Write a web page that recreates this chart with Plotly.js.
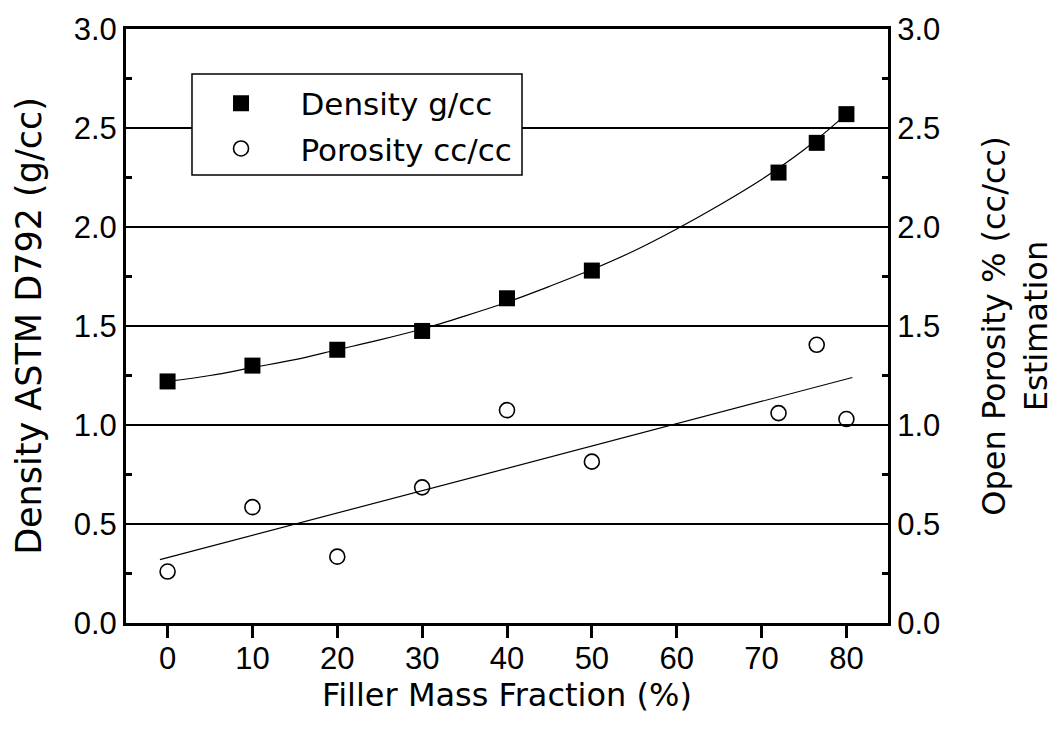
<!DOCTYPE html>
<html>
<head>
<meta charset="utf-8">
<script src="https://cdn.plot.ly/plotly-3.0.1.min.js"></script>
<style>html,body{margin:0;padding:0;background:#fff;}#chart{width:1058px;height:734px;}</style>
</head>
<body>
<div id="chart"></div>
<script>
// Measured points
const fillerX = [0, 10, 20, 30, 40, 50, 72, 76.5, 80];
const density = [1.22, 1.30, 1.38, 1.475, 1.64, 1.78, 2.275, 2.425, 2.57];
const porosity = [0.26, 0.585, 0.335, 0.685, 1.075, 0.815, 1.06, 1.405, 1.03];
// Fitted curves
const densityFitX = [0, 5, 10, 15, 20, 25, 30, 35, 40, 45, 50, 55, 60, 65, 70, 75, 80];
const densityFitY = [1.22, 1.25, 1.29, 1.33, 1.38, 1.43, 1.485, 1.55, 1.62, 1.70, 1.785, 1.88, 1.99, 2.11, 2.24, 2.39, 2.57];
const porosityFitX = [-0.9, 80.7];
const porosityFitY = [0.32, 1.24];
const xTicks = [0, 10, 20, 30, 40, 50, 60, 70, 80];
const yTicks = [0, 0.5, 1.0, 1.5, 2.0, 2.5, 3.0];

const textFont = {family: 'DejaVu Sans', size: 31, color: '#000'};
const tickFont = {family: 'Liberation Sans, Arial, sans-serif', size: 31, color: '#000'};

const traces = [
  {x: densityFitX, y: densityFitY, mode: 'lines', line: {color: '#000', width: 1.2, shape: 'spline'}, showlegend: false, hoverinfo: 'skip'},
  {x: porosityFitX, y: porosityFitY, yaxis: 'y2', mode: 'lines', line: {color: '#000', width: 1.2}, showlegend: false, hoverinfo: 'skip'},
  {x: fillerX, y: density, mode: 'markers', name: '    Density g/cc', legendgroup: 'a',
   marker: {symbol: 'square', size: 16, color: '#000'}},
  {x: fillerX, y: porosity, yaxis: 'y2', mode: 'markers', name: '    Porosity cc/cc', legendgroup: 'b',
   marker: {symbol: 'circle-open', size: 15, color: '#000', line: {width: 1.6, color: '#000'}}}
];

const yCommon = {
  range: [0, 3], tickvals: yTicks, ticktext: yTicks.map(v => v.toFixed(1)),
  ticks: 'inside', ticklen: 11, tickwidth: 2.5, tickcolor: '#000',
  showline: true, linewidth: 3, linecolor: '#000', zeroline: false,
  tickfont: tickFont,
  minor: {dtick: 0.25, tick0: 0, ticks: 'inside', ticklen: 6, tickwidth: 2.5, tickcolor: '#000', showgrid: false}
};

const layout = {
  width: 1058, height: 734,
  margin: {l: 126, r: 170, t: 29, b: 111},
  paper_bgcolor: '#fff', plot_bgcolor: '#fff',
  showlegend: true,
  legend: {x: 0.1247, y: 0.92, xanchor: 'left', yanchor: 'top', bgcolor: 'rgba(0,0,0,0)', borderwidth: 0,
           font: textFont, tracegroupgap: 2},
  xaxis: {
    range: [-4.9, 84.9], tickvals: xTicks, ticks: 'outside', ticklen: 12, tickwidth: 3, tickcolor: '#000',
    showline: true, linewidth: 3, linecolor: '#000', mirror: true, showgrid: false, zeroline: false,
    tickfont: tickFont, ticklabelstandoff: -6,
    title: {text: 'Filler Mass Fraction (%)', font: Object.assign({}, textFont, {size: 32}), standoff: 4}
  },
  yaxis: Object.assign({}, yCommon, {
    showgrid: true, gridcolor: '#000', gridwidth: 1.3,
    title: {text: 'Density ASTM D792 (g/cc)', font: Object.assign({}, textFont, {size: 35}), standoff: 22}
  }),
  yaxis2: Object.assign({}, yCommon, {
    overlaying: 'y', side: 'right', showgrid: false,
    title: {text: 'Open Porosity % (cc/cc)<br>Estimation', font: Object.assign({}, textFont, {size: 32}), standoff: 44}
  }),
  shapes: [
    {type: 'rect', xref: 'paper', yref: 'paper', x0: 0.0866, x1: 0.5197, y0: 0.7542, y1: 0.9242,
     fillcolor: '#fff', line: {color: '#000', width: 1.5}, layer: 'above'}
  ]
};

Plotly.newPlot('chart', traces, layout, {staticPlot: true, displayModeBar: false});
</script>
</body>
</html>
